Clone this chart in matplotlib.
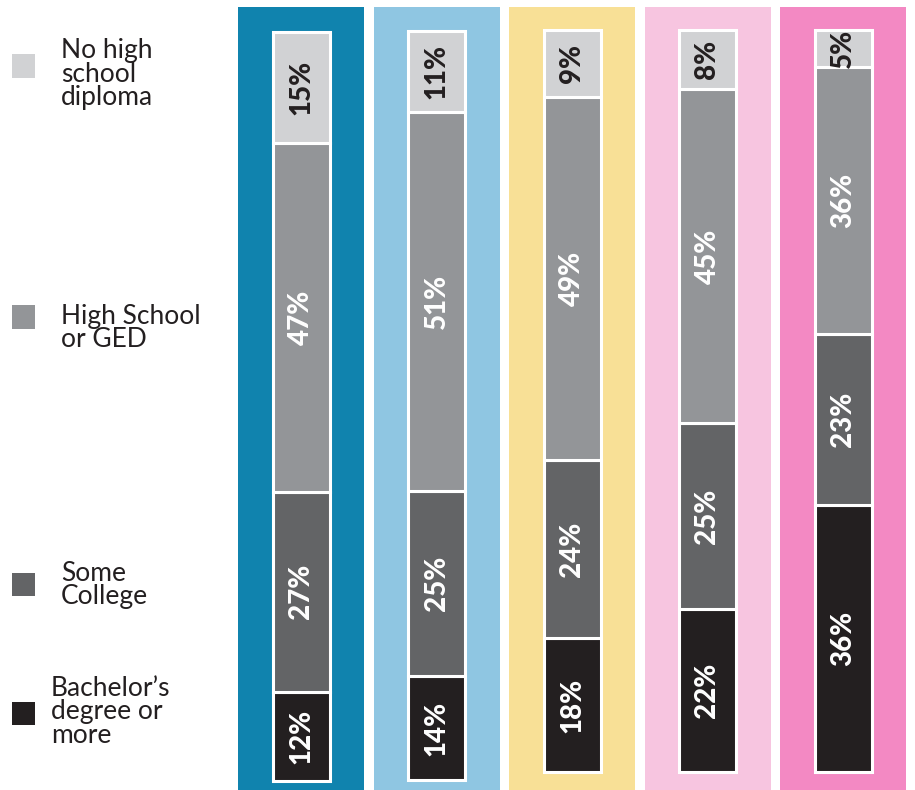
import matplotlib
matplotlib.use("Agg")
import matplotlib.pyplot as plt
from matplotlib.patches import Rectangle

plt.rcParams['font.family'] = ['Lato', 'DejaVu Sans']

# stacked shares, bottom segment first
categories = ["Bachelor\u2019s\ndegree or\nmore", "Some\nCollege", "High School\nor GED", "No high\nschool\ndiploma"]
bachelor = [12, 14, 18, 22, 36]
some_college = [27, 25, 24, 25, 23]
high_school = [47, 51, 49, 45, 36]
no_diploma = [15, 11, 9, 8, 5]
series = [bachelor, some_college, high_school, no_diploma]

seg_colors = ["#231f20", "#636466", "#939598", "#d1d2d4"]
txt_colors = ["white", "white", "white", "#231f20"]
panel_colors = ["#1083ae", "#8fc6e2", "#f8e096", "#f7c5e0", "#f389c3"]

W, H = 915, 790
PX_PER_PCT = 7.42
SPACING = 135.5
X0 = 301

fig = plt.figure(figsize=(W / 100, H / 100), dpi=100)
ax = fig.add_axes([0, 0, 1, 1])
ax.set_xlim((0 - X0) / SPACING, (W - X0) / SPACING)
ax.set_ylim(-9 / PX_PER_PCT, 781 / PX_PER_PCT)
ax.axis("off")

# per-bar baseline (bars 1-2 sit a bit lower than 3-5)
bases = [0, 0.13, 1.21, 1.21, 1.21]
panel_top = (781 - 7) / PX_PER_PCT

for i in range(5):
    ax.bar(i, panel_top - ax.get_ylim()[0], bottom=ax.get_ylim()[0], width=126 / SPACING,
           color=panel_colors[i], linewidth=0, zorder=1)
    bottom = bases[i]
    for s, vals in enumerate(series):
        v = vals[i]
        ax.bar(i, v, bottom=bottom, width=57 / SPACING, color=seg_colors[s],
               edgecolor="white", linewidth=2.2, zorder=2)
        ax.text(i, bottom + v / 2, f"{v}%", rotation=90, ha="center", va="center",
                color=txt_colors[s], fontsize=20, fontweight="black", zorder=3)
        bottom += v

# legend on the left
legend_rows = [
    (3, 66, 61, 74),
    (2, 317, 61, 328),
    (1, 584, 61, 585),
    (0, 713, 51, 712),
]
for s, sq_y, tx, ty in legend_rows:
    fig.add_artist(Rectangle((12 / W, 1 - (sq_y + 11.5) / H), 23 / W, 23 / H,
                             transform=fig.transFigure, color=seg_colors[s], linewidth=0))
    fig.text(tx / W, 1 - ty / H, categories[s], ha="left", va="center",
             fontsize=19, color="#231f20", linespacing=0.92)

fig.savefig("out.png", dpi=100)
